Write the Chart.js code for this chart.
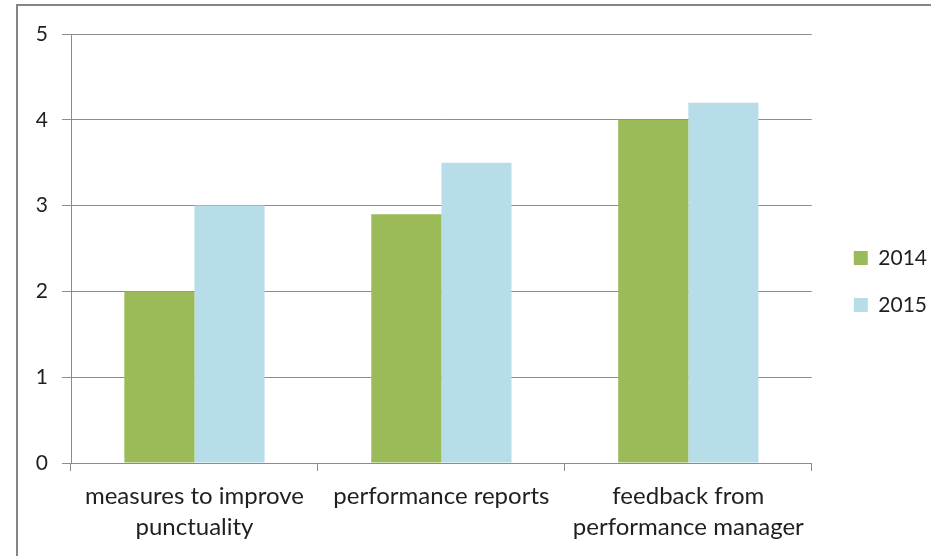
<!DOCTYPE html>
<html>
<head>
<meta charset="utf-8">
<script src="https://cdn.jsdelivr.net/npm/chart.js@4.4.1/dist/chart.umd.min.js"></script>
<style>
  html, body { margin: 0; padding: 0; background: #fff; }
  #wrap { position: relative; width: 931px; height: 556px; overflow: hidden; }
  #frame { position: absolute; left: 16px; top: 4px; width: 1000px; height: 1000px;
           border-left: 2px solid #858585; border-top: 2px solid #858585; box-sizing: border-box; pointer-events: none; }
  canvas { position: absolute; left: 0; top: 0; }
</style>
</head>
<body>
<div id="wrap">
  <canvas id="c" width="931" height="556"></canvas>
  <div id="frame"></div>
</div>
<script>
const categories = [
  ["measures to improve", "punctuality"],
  ["performance reports"],
  ["feedback from", "performance manager"]
];
const seriesNames = ["2014", "2015"];
const values2014 = [2.0, 2.9, 4.0];
const values2015 = [3.0, 3.5, 4.2];
const yTicks = [0, 1, 2, 3, 4, 5];

const FONT = "Lato";
const textColor = "#1f1f1f";
const gridColor = "#8c8c8c";

const unclipX = {
  id: "unclipX",
  afterLayout(chart) { chart.scales.x.bottom = chart.height; }
};

new Chart(document.getElementById("c"), {
  type: "bar",
  data: {
    labels: categories,
    datasets: [
      { label: seriesNames[0], data: values2014, backgroundColor: "#9bbb59", borderWidth: 0,
        barPercentage: 1.0, categoryPercentage: 0.568 },
      { label: seriesNames[1], data: values2015, backgroundColor: "#b7dde8", borderWidth: 0,
        barPercentage: 1.0, categoryPercentage: 0.568 }
    ]
  },
  plugins: [unclipX],
  options: {
    responsive: false,
    animation: false,
    devicePixelRatio: 1,
    layout: { padding: { top: 34, right: -6, bottom: 27, left: 0 } },
    plugins: {
      tooltip: { enabled: false },
      legend: {
        position: "right",
        align: "center",
        labels: {
          boxWidth: 14, boxHeight: 14, padding: 26,
          color: textColor,
          font: { family: FONT, size: 21 }
        }
      }
    },
    scales: {
      x: {
        offset: true,
        grid: { display: true, drawOnChartArea: false, drawTicks: true, tickLength: 8, color: gridColor, offset: true },
        border: { display: true, color: gridColor, width: 1 },
        ticks: { color: textColor, font: { family: FONT, size: 24, lineHeight: 1.28 }, padding: 10, maxRotation: 0, autoSkip: false },
        afterFit: (s) => { s.height = 66; }
      },
      y: {
        min: 0, max: 5,
        afterBuildTicks: (s) => { s.ticks = yTicks.map(v => ({ value: v })); },
        grid: { color: gridColor, tickLength: 9, drawTicks: true },
        border: { display: true, color: gridColor, width: 1 },
        ticks: { color: textColor, font: { family: FONT, size: 21 }, padding: 14 },
        afterFit: (s) => { s.width = 71; }
      },
      gap: {
        type: "linear",
        position: "right",
        display: true,
        grid: { display: false, drawOnChartArea: false, drawTicks: false },
        border: { display: false },
        ticks: { display: false },
        afterFit: (s) => { s.width = 16; }
      }
    }
  }
});
</script>
</body>
</html>
